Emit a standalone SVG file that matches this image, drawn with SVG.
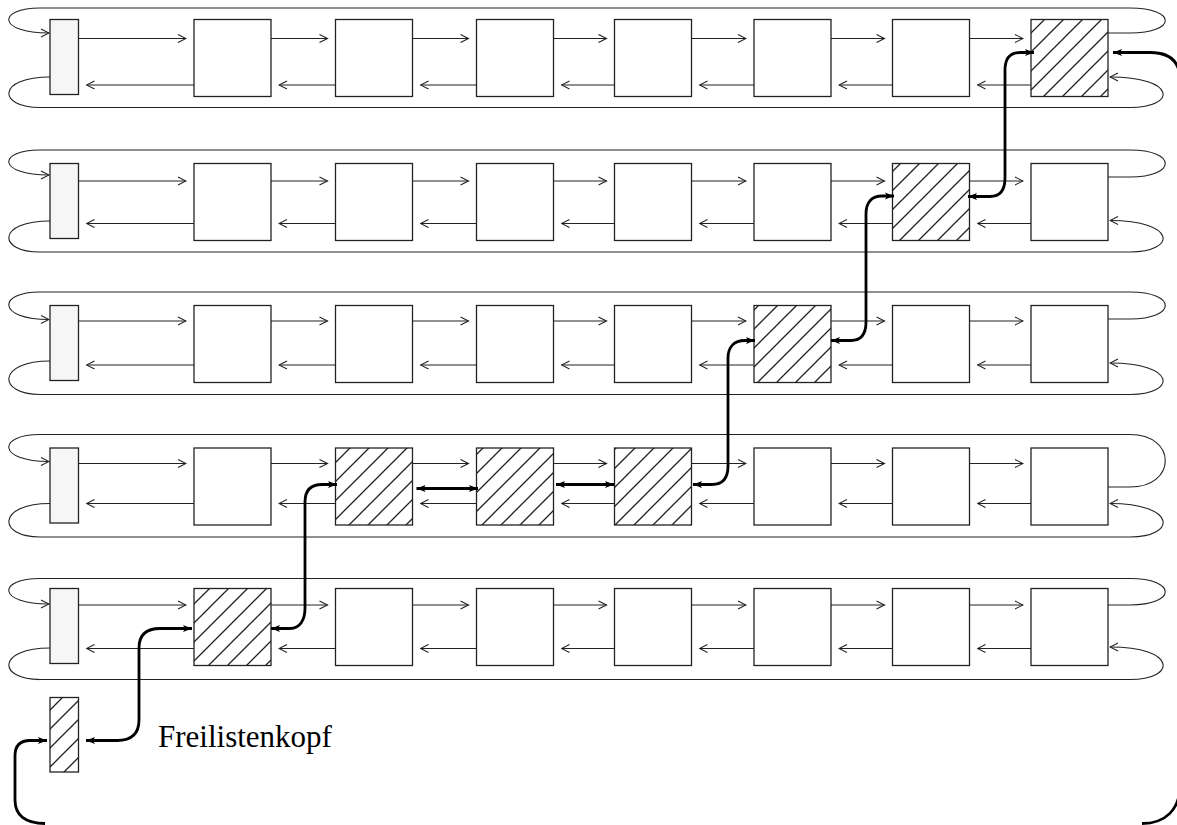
<svg xmlns="http://www.w3.org/2000/svg" width="1177" height="825" viewBox="0 0 1177 825">
<style>
.n{fill:#fff;stroke:#222;stroke-width:1.3}
.h{fill:#f6f6f6;stroke:#222;stroke-width:1.3}
.x{fill:url(#hatch);stroke:#222;stroke-width:1.3}
.a{fill:none;stroke:#222;stroke-width:1.1;marker-end:url(#oa)}
.l{fill:none;stroke:#222;stroke-width:1.1}
.t{fill:none;stroke:#000;stroke-width:2.8;marker-start:url(#fa);marker-end:url(#fa)}
.lbl{font-family:"Liberation Serif","Times New Roman",serif;font-size:31px;fill:#000}
</style>
<defs>
<pattern id="hatch" patternUnits="userSpaceOnUse" width="19" height="19">
<rect width="19" height="19" fill="#fff"/>
<path d="M0,19 L19,0 M-5,5 L5,-5 M14,24 L24,14" stroke="#222" stroke-width="1.3"/>
</pattern>
<marker id="oa" markerUnits="userSpaceOnUse" markerWidth="10" markerHeight="10" viewBox="0 0 10 10" refX="9" refY="5" orient="auto">
<path d="M1,1 L9,5 L1,9" fill="none" stroke="#222" stroke-width="1.1"/>
</marker>
<marker id="fa" markerUnits="userSpaceOnUse" markerWidth="10" markerHeight="8" viewBox="0 0 10 8" refX="9" refY="4" orient="auto-start-reverse">
<path d="M0,0.5 L9,4 L0,7.5 L2,4 z" fill="#000"/>
</marker>
</defs>
<rect width="1177" height="825" fill="#fff"/>

<g id="connectors">
<!-- row 1 -->
<path class="a" d="M1108,33 H1130 C1177,33 1177,8 1130,8 H40 C-3,8 -3,33 49,33"/>
<path class="a" d="M50,77 C-3,77 -3,107.5 40,107.5 H1130 C1177,107.5 1177,77 1110,77"/>
<line class="a" x1="78.5" y1="38.5" x2="186" y2="38.5"/>
<line class="a" x1="271" y1="38.5" x2="327.5" y2="38.5"/>
<line class="a" x1="412.5" y1="38.5" x2="468.5" y2="38.5"/>
<line class="a" x1="553.5" y1="38.5" x2="606.5" y2="38.5"/>
<line class="a" x1="691.5" y1="38.5" x2="746" y2="38.5"/>
<line class="a" x1="831" y1="38.5" x2="884.5" y2="38.5"/>
<line class="a" x1="969.5" y1="38.5" x2="1023" y2="38.5"/>
<line class="a" x1="194" y1="85" x2="86.5" y2="85"/>
<line class="a" x1="335.5" y1="85" x2="279" y2="85"/>
<line class="a" x1="476.5" y1="85" x2="420.5" y2="85"/>
<line class="a" x1="614.5" y1="85" x2="561.5" y2="85"/>
<line class="a" x1="754" y1="85" x2="699.5" y2="85"/>
<line class="a" x1="892.5" y1="85" x2="839" y2="85"/>
<line class="a" x1="1031" y1="85" x2="977.5" y2="85"/>
<!-- row 2 -->
<path class="a" d="M1108,177 H1130 C1177,177 1177,150 1130,150 H40 C-3,150 -3,175 49,175"/>
<path class="a" d="M50,221 C-3,221 -3,252 40,252 H1130 C1177,252 1177,220.5 1110,220.5"/>
<line class="a" x1="78.5" y1="181" x2="186" y2="181"/>
<line class="a" x1="271" y1="181" x2="327.5" y2="181"/>
<line class="a" x1="412.5" y1="181" x2="468.5" y2="181"/>
<line class="a" x1="553.5" y1="181" x2="606.5" y2="181"/>
<line class="a" x1="691.5" y1="181" x2="746" y2="181"/>
<line class="a" x1="831" y1="181" x2="884.5" y2="181"/>
<line class="a" x1="969.5" y1="181" x2="1023" y2="181"/>
<line class="a" x1="194" y1="223.5" x2="86.5" y2="223.5"/>
<line class="a" x1="335.5" y1="223.5" x2="279" y2="223.5"/>
<line class="a" x1="476.5" y1="223.5" x2="420.5" y2="223.5"/>
<line class="a" x1="614.5" y1="223.5" x2="561.5" y2="223.5"/>
<line class="a" x1="754" y1="223.5" x2="699.5" y2="223.5"/>
<line class="a" x1="892.5" y1="223.5" x2="839" y2="223.5"/>
<line class="a" x1="1031" y1="223.5" x2="977.5" y2="223.5"/>
<!-- row 3 -->
<path class="a" d="M1108,319 H1130 C1177,319 1177,292 1130,292 H40 C-3,292 -3,319.5 49,319.5"/>
<path class="a" d="M50,361 C-3,361 -3,394.5 40,394.5 H1130 C1177,394.5 1177,363 1110,363"/>
<line class="a" x1="78.5" y1="321" x2="186" y2="321"/>
<line class="a" x1="271" y1="321" x2="327.5" y2="321"/>
<line class="a" x1="412.5" y1="321" x2="468.5" y2="321"/>
<line class="a" x1="553.5" y1="321" x2="606.5" y2="321"/>
<line class="a" x1="691.5" y1="321" x2="746" y2="321"/>
<line class="a" x1="831" y1="321" x2="884.5" y2="321"/>
<line class="a" x1="969.5" y1="321" x2="1023" y2="321"/>
<line class="a" x1="194" y1="365" x2="86.5" y2="365"/>
<line class="a" x1="335.5" y1="365" x2="279" y2="365"/>
<line class="a" x1="476.5" y1="365" x2="420.5" y2="365"/>
<line class="a" x1="614.5" y1="365" x2="561.5" y2="365"/>
<line class="a" x1="754" y1="365" x2="699.5" y2="365"/>
<line class="a" x1="892.5" y1="365" x2="839" y2="365"/>
<line class="a" x1="1031" y1="365" x2="977.5" y2="365"/>
<!-- row 4 -->
<path class="a" d="M1108,487 H1130 C1177,487 1177,434.5 1130,434.5 H40 C-3,434.5 -3,461.5 49,461.5"/>
<path class="a" d="M50,503.5 C-3,503.5 -3,537 40,537 H1130 C1177,537 1177,503.5 1110,503.5"/>
<line class="a" x1="78.5" y1="463.5" x2="186" y2="463.5"/>
<line class="a" x1="271" y1="463.5" x2="327.5" y2="463.5"/>
<line class="a" x1="412.5" y1="463.5" x2="468.5" y2="463.5"/>
<line class="a" x1="553.5" y1="463.5" x2="606.5" y2="463.5"/>
<line class="a" x1="691.5" y1="463.5" x2="746" y2="463.5"/>
<line class="a" x1="831" y1="463.5" x2="884.5" y2="463.5"/>
<line class="a" x1="969.5" y1="463.5" x2="1023" y2="463.5"/>
<line class="a" x1="194" y1="503.5" x2="86.5" y2="503.5"/>
<line class="a" x1="335.5" y1="503.5" x2="279" y2="503.5"/>
<line class="a" x1="476.5" y1="503.5" x2="420.5" y2="503.5"/>
<line class="a" x1="614.5" y1="503.5" x2="561.5" y2="503.5"/>
<line class="a" x1="754" y1="503.5" x2="699.5" y2="503.5"/>
<line class="a" x1="892.5" y1="503.5" x2="839" y2="503.5"/>
<line class="a" x1="1031" y1="503.5" x2="977.5" y2="503.5"/>
<!-- row 5 -->
<path class="a" d="M1108,605 H1130 C1177,605 1177,578.5 1130,578.5 H40 C-3,578.5 -3,604 49,604"/>
<path class="a" d="M50,648 C-3,648 -3,679.5 40,679.5 H1130 C1177,679.5 1177,647 1110,647"/>
<line class="l" x1="36" y1="679.5" x2="40" y2="679.5"/>
<line class="a" x1="78.5" y1="605" x2="186" y2="605"/>
<line class="a" x1="271" y1="605" x2="327.5" y2="605"/>
<line class="a" x1="412.5" y1="605" x2="468.5" y2="605"/>
<line class="a" x1="553.5" y1="605" x2="606.5" y2="605"/>
<line class="a" x1="691.5" y1="605" x2="746" y2="605"/>
<line class="a" x1="831" y1="605" x2="884.5" y2="605"/>
<line class="a" x1="969.5" y1="605" x2="1023" y2="605"/>
<line class="a" x1="194" y1="648.5" x2="86.5" y2="648.5"/>
<line class="a" x1="335.5" y1="648.5" x2="279" y2="648.5"/>
<line class="a" x1="476.5" y1="648.5" x2="420.5" y2="648.5"/>
<line class="a" x1="614.5" y1="648.5" x2="561.5" y2="648.5"/>
<line class="a" x1="754" y1="648.5" x2="699.5" y2="648.5"/>
<line class="a" x1="892.5" y1="648.5" x2="839" y2="648.5"/>
<line class="a" x1="1031" y1="648.5" x2="977.5" y2="648.5"/>
</g>

<g id="nodes">
<g id="row1">
<rect id="r1h" class="h" x="50" y="19.5" width="28.5" height="75"/>
<rect id="r1c1" class="n" x="194" y="19.5" width="77" height="77"/>
<rect id="r1c2" class="n" x="335.5" y="19.5" width="77" height="77"/>
<rect id="r1c3" class="n" x="476.5" y="19.5" width="77" height="77"/>
<rect id="r1c4" class="n" x="614.5" y="19.5" width="77" height="77"/>
<rect id="r1c5" class="n" x="754" y="19.5" width="77" height="77"/>
<rect id="r1c6" class="n" x="892.5" y="19.5" width="77" height="77"/>
<rect id="r1c7" class="x" x="1031" y="19.5" width="77" height="77"/>
</g>
<g id="row2">
<rect id="r2h" class="h" x="50" y="163.5" width="28.5" height="75"/>
<rect id="r2c1" class="n" x="194" y="163.5" width="77" height="77"/>
<rect id="r2c2" class="n" x="335.5" y="163.5" width="77" height="77"/>
<rect id="r2c3" class="n" x="476.5" y="163.5" width="77" height="77"/>
<rect id="r2c4" class="n" x="614.5" y="163.5" width="77" height="77"/>
<rect id="r2c5" class="n" x="754" y="163.5" width="77" height="77"/>
<rect id="r2c6" class="x" x="892.5" y="163.5" width="77" height="77"/>
<rect id="r2c7" class="n" x="1031" y="163.5" width="77" height="77"/>
</g>
<g id="row3">
<rect id="r3h" class="h" x="50" y="305.5" width="28.5" height="75"/>
<rect id="r3c1" class="n" x="194" y="305.5" width="77" height="77"/>
<rect id="r3c2" class="n" x="335.5" y="305.5" width="77" height="77"/>
<rect id="r3c3" class="n" x="476.5" y="305.5" width="77" height="77"/>
<rect id="r3c4" class="n" x="614.5" y="305.5" width="77" height="77"/>
<rect id="r3c5" class="x" x="754" y="305.5" width="77" height="77"/>
<rect id="r3c6" class="n" x="892.5" y="305.5" width="77" height="77"/>
<rect id="r3c7" class="n" x="1031" y="305.5" width="77" height="77"/>
</g>
<g id="row4">
<rect id="r4h" class="h" x="50" y="448" width="28.5" height="75"/>
<rect id="r4c1" class="n" x="194" y="448" width="77" height="77"/>
<rect id="r4c2" class="x" x="335.5" y="448" width="77" height="77"/>
<rect id="r4c3" class="x" x="476.5" y="448" width="77" height="77"/>
<rect id="r4c4" class="x" x="614.5" y="448" width="77" height="77"/>
<rect id="r4c5" class="n" x="754" y="448" width="77" height="77"/>
<rect id="r4c6" class="n" x="892.5" y="448" width="77" height="77"/>
<rect id="r4c7" class="n" x="1031" y="448" width="77" height="77"/>
</g>
<g id="row5">
<rect id="r5h" class="h" x="50" y="588.5" width="28.5" height="75"/>
<rect id="r5c1" class="x" x="194" y="588.5" width="77" height="77"/>
<rect id="r5c2" class="n" x="335.5" y="588.5" width="77" height="77"/>
<rect id="r5c3" class="n" x="476.5" y="588.5" width="77" height="77"/>
<rect id="r5c4" class="n" x="614.5" y="588.5" width="77" height="77"/>
<rect id="r5c5" class="n" x="754" y="588.5" width="77" height="77"/>
<rect id="r5c6" class="n" x="892.5" y="588.5" width="77" height="77"/>
<rect id="r5c7" class="n" x="1031" y="588.5" width="77" height="77"/>
</g>
<g id="freehead">
<rect class="x" x="50" y="697.5" width="28.5" height="74.5"/>
<text class="lbl" x="158" y="747">Freilistenkopf</text>
</g>
</g>

<g id="freelist">
<path class="t" d="M1113,52.5 H1150 C1170,52.5 1180,62 1180,80 V785 C1180,810 1165,823.5 1142,823.5 M45,823.5 C25,823.5 15,815 15,800 V756 C15,746 20,740.5 30,740.5 H47"/>
<path class="t" d="M86,740.5 H117 C132,740.5 139,733 139,720 V648 C139,635 146,628.5 160,628.5 H192"/>
<path class="t" d="M271,628.5 H290 C300,628.5 305,620 305,608 V502 C305,490 311,484.5 322,484.5 H337"/>
<path class="t" d="M416.5,488.5 H478"/>
<path class="t" d="M556,484.5 H614"/>
<path class="t" d="M693,484.5 H712 C723,484.5 728,478 728,466 V358 C728,347 734,340.5 745,340.5 H755"/>
<path class="t" d="M831,340.5 H851 C861,340.5 866,334 866,322 V214 C866,202 872,196 882,196 H894"/>
<path class="t" d="M968,196.5 H990 C1000,196.5 1005,190 1005,178 V70 C1005,58 1010,52.5 1020,52.5 H1034"/>
</g>
</svg>
